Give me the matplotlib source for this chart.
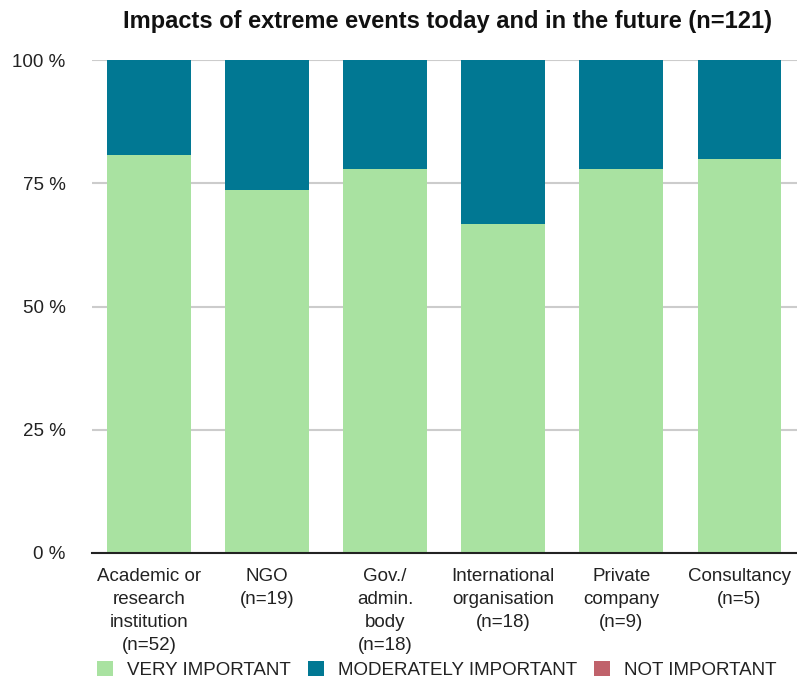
import matplotlib
matplotlib.use('Agg')
import matplotlib.pyplot as plt
import numpy as np

plt.rcParams['font.family'] = ['Liberation Sans', 'DejaVu Sans']

categories = [
    'Academic or\nresearch\ninstitution\n(n=52)',
    'NGO\n(n=19)',
    'Gov./\nadmin.\nbody\n(n=18)',
    'International\norganisation\n(n=18)',
    'Private\ncompany\n(n=9)',
    'Consultancy\n(n=5)',
]
very_important = [80.8, 73.7, 77.8, 66.7, 77.8, 80.0]
moderately_important = [19.2, 26.3, 22.2, 33.3, 22.2, 20.0]
not_important = [0, 0, 0, 0, 0, 0]

GREEN = '#a9e2a1'
TEAL = '#017893'
RED = '#c0626b'

fig = plt.figure(figsize=(7.97, 6.86), dpi=100)
ax = fig.add_axes([0.1154, 0.1939, 0.8846, 0.7186])

x = np.arange(len(categories))
w = 0.71
vi = np.array(very_important)
mi = np.array(moderately_important)
ni = np.array(not_important)
ax.bar(x, vi, w, color=GREEN, label='VERY IMPORTANT', zorder=2)
ax.bar(x, mi, w, bottom=vi, color=TEAL, label='MODERATELY IMPORTANT', zorder=2)
ax.bar(x, ni, w, bottom=vi + mi, color=RED, label='NOT IMPORTANT', zorder=2)

ax.set_ylim(0, 100)
ax.set_xlim(-0.483, 5.487)
ax.set_yticks([0, 25, 50, 75, 100])
ax.set_yticklabels(['0 %', '25 %', '50 %', '75 %', '100 %'], fontsize=13.5, color='#222222')
ax.set_xticks(x)
ax.set_xticklabels(categories, fontsize=13.5, color='#222222', linespacing=1.46)
ax.tick_params(axis='both', length=0)
ax.tick_params(axis='y', pad=19)
ax.tick_params(axis='x', pad=11)
ax.grid(axis='y', color='#cccccc', linewidth=1.5, zorder=0)
for s in ['top', 'right', 'left']:
    ax.spines[s].set_visible(False)
ax.spines['bottom'].set_color('#222222')
ax.spines['bottom'].set_linewidth(1.5)
ax.spines['bottom'].set_zorder(3)

fig.text(0.561, 0.968, 'Impacts of extreme events today and in the future (n=121)',
         ha='center', va='center', fontsize=17, fontweight='bold', color='#111111')

fig.legend(loc='center left', bbox_to_anchor=(97 / 797, 0.024), ncol=3, frameon=False,
           fontsize=13.5, handlelength=0.85, handleheight=0.85, handletextpad=0.75,
           columnspacing=0.9, borderpad=0, borderaxespad=0, labelcolor='#222222')

fig.savefig('out.png', dpi=100)
